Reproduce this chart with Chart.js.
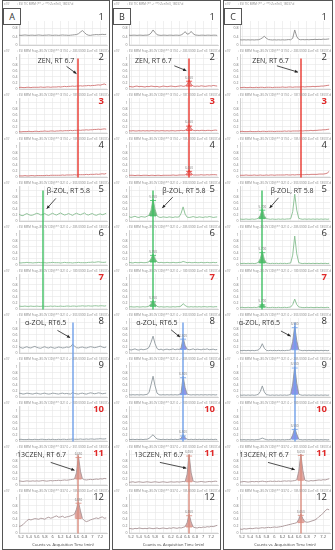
<!DOCTYPE html>
<html>
<head>
<meta charset="utf-8">
<script src="https://cdn.jsdelivr.net/npm/chart.js@4.4.1/dist/chart.umd.min.js"></script>
<style>
  html, body { margin: 0; padding: 0; background: #fff; }
  body { width: 335px; height: 550px; position: relative; overflow: hidden; }
  .col { position: absolute; top: 0; height: 550px; box-sizing: border-box; border: 1px solid #555; background: #fff; }
  .col canvas { display: block; }
  .tag { position: absolute; top: 8px; width: 16px; height: 15px; border: 1px solid #555; background: #fff;
         font: 9px "Open Sans", sans-serif; color: #333; text-align: center; line-height: 15px; z-index: 2; }
</style>
</head>
<body>
<script>
// retention time axis (min), one value every 0.05 min
const times = [5.15,5.2,5.25,5.3,5.35,5.4,5.45,5.5,5.55,5.6,5.65,5.7,5.75,5.8,5.85,5.9,5.95,6.0,6.05,6.1,
  6.15,6.2,6.25,6.3,6.35,6.4,6.45,6.5,6.55,6.6,6.65,6.7,6.75,6.8,6.85,6.9,6.95,7.0,7.05,7.1,
  7.15,7.2,7.25,7.3,7.35];
const xTicks = [5.2,5.4,5.6,5.8,6,6.2,6.4,6.6,6.8,7,7.2];
const yTicks = [0,0.2,0.4,0.6,0.8,1];

// column A
const A1 = [.47,.46,.47,.48,.47,.46,.47,.47,.46, .47,.48,.47,.46,.47,.47,.48,.47,.46,.47, .47,.46,.47,.48,.47,.47,.46,.47,.48,.49, .50,.54,.62,.69,.60,.51,.47,.46,.48,.49, .50,.49,.50,.51,.50,.51];
const A2 = [.04,.05,.04,.04,.05,.05,.04,.05,.05, .05,.05,.06,.05,.05,.06,.06,.05,.06,.06, .06,.07,.06,.07,.08,.07,.08,.08,.09,.08, .09,.09,.10,.09,.10,.10,.11,.10,.11,.11, .12,.13,.12,.14,.16,.13];
const A3 = [.04,.03,.04,.04,.04,.05,.04,.04,.05, .05,.04,.05,.05,.06,.05,.05,.06,.06,.05, .06,.06,.07,.06,.07,.07,.07,.08,.07,.08, .08,.09,.08,.09,.09,.10,.09,.10,.10,.11, .11,.12,.11,.12,.13,.12];
const A4 = [.03,.03,.03,.04,.03,.03,.04,.04,.03, .04,.04,.04,.04,.04,.05,.04,.05,.05,.05, .05,.05,.05,.06,.05,.06,.06,.06,.06,.07, .06,.07,.07,.07,.07,.08,.07,.08,.08,.08, .09,.08,.09,.10,.09,.11];
const A5 = [.22,.18,.17,.21,.24,.20,.18,.19,.22, .25,.23,.19,.21,.24,.20,.18,.22,.25,.21, .19,.23,.26,.22,.19,.21,.24,.21,.18,.22, .25,.22,.20,.23,.26,.21,.19,.22,.24,.20, .18,.21,.23,.20,.22,.25];
const A6 = [.07,.06,.07,.07,.08,.07,.07,.06,.07, .07,.08,.07,.07,.07,.06,.07,.07,.08,.07, .07,.07,.06,.07,.08,.07,.07,.07,.06,.07, .07,.08,.07,.07,.07,.07,.08,.08,.09,.08, .09,.10,.09,.08,.08,.09];
const A7 = [.09,.08,.08,.09,.08,.08,.09,.08,.08, .09,.08,.08,.09,.08,.08,.08,.09,.08,.09, .08,.08,.09,.08,.08,.09,.09,.08,.09,.09, .08,.09,.09,.10,.09,.09,.10,.09,.09,.10, .10,.09,.10,.10,.09,.10];
const A8 = [.21,.17,.15,.18,.20,.17,.16,.19,.21, .18,.16,.15,.18,.20,.17,.16,.19,.17,.15, .17,.19,.18,.16,.17,.19,.18,.20,.28,.22, .17,.16,.18,.19,.17,.16,.18,.20,.19,.17, .18,.20,.22,.19,.17,.19];
const A9 = [.12,.11,.09,.10,.12,.11,.10,.09,.11, .12,.10,.09,.11,.12,.10,.09,.10,.12,.11, .10,.09,.11,.12,.10,.11,.10,.09,.14,.11, .10,.09,.11,.12,.10,.09,.11,.13,.12,.10, .11,.13,.12,.10,.11,.12];
const A10 = [.04,.05,.04,.04,.04,.05,.04,.04,.05, .04,.04,.05,.05,.04,.04,.05,.04,.05,.04, .04,.05,.04,.05,.05,.04,.05,.05,.06,.05, .05,.05,.06,.05,.05,.06,.05,.06,.06,.05, .06,.06,.07,.06,.06,.07];
const A11 = [.13,.12,.11,.12,.13,.12,.12,.13,.12, .13,.12,.13,.14,.13,.12,.13,.14,.13,.14, .14,.15,.14,.15,.16,.15,.16,.17,.18,.19, .40,.95,.45,.20,.17,.16,.17,.18,.17,.18, .19,.18,.20,.19,.21,.20];
const A12 = [.19,.20,.24,.30,.36,.40,.38,.40,.42, .41,.40,.43,.42,.40,.44,.46,.43,.45,.48, .50,.46,.47,.49,.45,.47,.48,.50,.52,.55, .70,.92,.65,.42,.36,.33,.35,.38,.40,.42, .44,.42,.45,.47,.43,.44];

// column B
const B1 = [.47,.46,.47,.47,.46,.47,.47,.46,.47, .47,.49,.57,.72,.60,.49,.47,.46,.47,.47, .46,.47,.47,.46,.47,.47,.46,.48,.54,.64, .52,.54,.65,.54,.48,.47,.46,.47,.47,.46, .47,.47,.46,.47,.47,.46];
const B2 = [.08,.07,.06,.08,.09,.07,.08,.07,.06, .08,.07,.09,.08,.07,.08,.06,.07,.09,.08, .07,.08,.09,.08,.07,.08,.09,.10,.08,.09, .14,.30,.15,.09,.08,.09,.08,.10,.09,.08, .09,.10,.09,.11,.10,.09];
const B3 = [.07,.06,.07,.06,.06,.07,.06,.07,.06, .07,.06,.07,.07,.06,.07,.06,.07,.07,.06, .07,.06,.07,.07,.06,.07,.07,.08,.07,.08, .13,.27,.14,.08,.07,.08,.07,.08,.08,.07, .08,.08,.07,.08,.09,.08];
const B4 = [.05,.05,.05,.04,.05,.05,.04,.05,.05, .05,.04,.05,.05,.04,.05,.05,.04,.05,.05, .05,.05,.05,.06,.05,.05,.06,.06,.06,.06, .11,.23,.12,.06,.06,.06,.06,.07,.06,.06, .07,.06,.07,.07,.07,.06];
const B5 = [.14,.11,.13,.15,.12,.11,.14,.13,.12, .15,.18,.35,.72,.38,.16,.12,.11,.13,.12, .11,.13,.12,.11,.13,.12,.13,.25,.46,.22, .12,.11,.12,.14,.12,.11,.13,.12,.11,.13, .12,.14,.13,.11,.12,.13];
const B6 = [.08,.07,.06,.08,.07,.07,.08,.07,.07, .08,.10,.20,.36,.21,.09,.07,.08,.07,.07, .08,.07,.07,.08,.07,.07,.08,.08,.11,.09, .07,.08,.07,.07,.08,.07,.07,.08,.07,.07, .08,.07,.07,.08,.07,.08];
const B7 = [.06,.07,.06,.06,.07,.06,.06,.07,.06, .07,.09,.17,.28,.16,.08,.06,.07,.06,.06, .07,.06,.06,.07,.06,.07,.07,.09,.17,.11, .07,.06,.07,.06,.07,.06,.07,.06,.07,.07, .06,.07,.07,.06,.07,.07];
const B8 = [.12,.09,.11,.13,.10,.09,.12,.10,.11, .13,.18,.35,.55,.30,.14,.10,.12,.09,.11, .12,.10,.11,.13,.10,.12,.11,.16,.50,.24, .12,.10,.11,.13,.10,.12,.11,.10,.12,.11, .13,.10,.11,.12,.10,.11];
const B9 = [.07,.06,.07,.06,.07,.06,.07,.06,.07, .08,.14,.40,.68,.36,.12,.07,.06,.07,.06, .07,.06,.07,.06,.07,.06,.07,.14,.68,.30, .09,.07,.06,.07,.06,.07,.06,.07,.06,.07, .06,.07,.06,.07,.06,.07];
const B10 = [.05,.04,.05,.04,.05,.04,.05,.04,.05, .05,.08,.14,.20,.12,.06,.05,.04,.05,.04, .05,.04,.05,.04,.05,.04,.05,.08,.21,.10, .05,.04,.05,.04,.05,.04,.05,.04,.05,.04, .05,.04,.05,.04,.05,.04];
const B11 = [.08,.09,.10,.08,.09,.10,.09,.08,.09, .10,.09,.08,.09,.10,.09,.08,.09,.10,.09, .08,.09,.10,.09,.09,.10,.09,.10,.11,.10, .35,1.0,.40,.12,.10,.09,.10,.11,.10,.09, .10,.11,.10,.11,.12,.11];
const B12 = [.13,.12,.11,.13,.12,.14,.13,.12,.13, .12,.14,.13,.12,.13,.14,.12,.13,.14,.13, .12,.14,.13,.15,.14,.13,.15,.14,.16,.18, .30,.55,.32,.17,.15,.14,.16,.15,.17,.16, .18,.17,.19,.18,.20,.22];

// column C
const C1 = [.25,.24,.25,.24,.25,.24,.25,.24,.25, .25,.28,.34,.42,.32,.26,.25,.24,.25,.24, .25,.24,.25,.24,.25,.26,.25,.32,.72,.40, .27,.25,.26,.25,.26,.25,.26,.26,.27,.26, .27,.26,.28,.27,.28,.29];
const C2 = [.04,.04,.05,.04,.04,.05,.04,.04,.05, .04,.05,.05,.04,.05,.05,.05,.04,.05,.05, .05,.05,.06,.05,.05,.06,.06,.05,.06,.06, .06,.06,.07,.06,.07,.07,.07,.08,.07,.08, .08,.09,.09,.10,.11,.12];
const C3 = [.04,.05,.04,.04,.04,.05,.04,.04,.04, .05,.04,.05,.05,.04,.05,.05,.05,.04,.05, .05,.05,.05,.06,.05,.06,.05,.06,.06,.06, .06,.07,.06,.07,.07,.07,.08,.07,.08,.08, .09,.09,.10,.10,.11,.12];
const C4 = [.05,.05,.05,.06,.05,.05,.05,.06,.05, .05,.06,.05,.05,.06,.05,.06,.06,.05,.06, .06,.06,.06,.06,.07,.06,.06,.07,.06,.07, .07,.07,.07,.07,.08,.07,.08,.08,.08,.08, .09,.09,.09,.10,.12,.18];
const C5 = [.06,.05,.05,.06,.05,.05,.06,.05,.06, .08,.18,.40,.17,.07,.06,.05,.06,.05,.05, .06,.05,.06,.05,.06,.06,.07,.30,.88,.35, .08,.06,.05,.06,.05,.06,.05,.06,.05,.06, .05,.06,.05,.06,.05,.06];
const C6 = [.05,.04,.05,.04,.05,.04,.05,.04,.05, .08,.20,.45,.18,.06,.05,.04,.05,.04,.05, .04,.05,.04,.05,.04,.05,.06,.32,.95,.36, .07,.05,.04,.05,.04,.05,.04,.05,.04,.05, .04,.05,.04,.05,.04,.05];
const C7 = [.04,.05,.04,.04,.05,.04,.04,.05,.04, .06,.10,.18,.09,.05,.04,.04,.05,.04,.04, .05,.04,.04,.05,.04,.05,.06,.14,.32,.14, .06,.05,.04,.04,.05,.04,.05,.04,.04,.05, .04,.05,.04,.04,.05,.04];
const C8 = [.08,.07,.08,.07,.08,.07,.08,.07,.08, .09,.16,.30,.15,.08,.07,.08,.07,.08,.07, .08,.07,.08,.07,.08,.08,.10,.38,.88,.40, .10,.08,.07,.08,.07,.08,.07,.08,.07,.08, .07,.08,.07,.08,.07,.08];
const C9 = [.06,.05,.06,.05,.06,.05,.06,.05,.06, .08,.17,.36,.16,.07,.06,.05,.06,.05,.06, .05,.06,.05,.06,.05,.06,.08,.42,1.0,.45, .09,.06,.05,.06,.05,.06,.05,.06,.05,.06, .05,.06,.05,.06,.05,.06];
const C10 = [.04,.03,.04,.03,.04,.03,.04,.03,.04, .04,.06,.09,.06,.04,.03,.04,.03,.04,.03, .04,.03,.04,.03,.04,.04,.05,.20,.42,.22, .05,.04,.03,.04,.03,.04,.03,.04,.03,.04, .03,.04,.03,.04,.03,.04];
const C11 = [.09,.10,.11,.10,.09,.10,.11,.10,.11, .10,.11,.12,.11,.10,.11,.12,.11,.12,.11, .12,.11,.12,.13,.12,.13,.12,.13,.14,.16, .45,1.02,.48,.15,.13,.12,.14,.13,.14,.15, .16,.15,.17,.16,.18,.20];
const C12 = [.11,.10,.12,.11,.12,.13,.12,.13,.14, .13,.14,.15,.14,.15,.16,.15,.16,.17,.16, .17,.18,.19,.21,.22,.24,.25,.27,.28,.30, .40,.56,.42,.33,.31,.32,.34,.36,.38,.42, .48,.52,.58,.65,.70,.68];

// retention times of the marked peaks: ZEN, beta-ZOL, alpha-ZOL, 13C-ZEN
const rtA = [6.65, 5.75, 6.5, 6.65];
const rtB = [6.65, 5.75, 6.5, 6.65];
const rtC = [6.65, 5.7, 6.5, 6.65];
// which groups have an integrated (filled) peak
const filledA = [false, false, false, true];
const filledB = [true, true, true, true];
const filledC = [false, true, true, true];

const noteText = ['ZEN, RT 6.7', 'β-ZOL, RT 5.8', 'α-ZOL, RT6.5', '13CZEN, RT 6.7'];
const panelNumbers = ['1','2','3','4','5','6','7','8','9','10','11','12'];
const redNumbers = [2, 6, 9, 10];

const panelTitles = [
  '+ESI TIC MRM (** -> **) ZenTri3_18037.d',
  '+ESI MRM Frag=80.0V CID@** (319.0 -> 283.0000) ZenTri3_18037.d',
  '+ESI MRM Frag=80.0V CID@** (319.0 -> 187.0000) ZenTri3_18037.d',
  '+ESI MRM Frag=80.0V CID@** (319.0 -> 185.0000) ZenTri3_18037.d',
  '+ESI MRM Frag=80.0V CID@** (321.0 -> 303.0000) ZenTri3_18037.d',
  '+ESI MRM Frag=80.0V CID@** (321.0 -> 285.0000) ZenTri3_18037.d',
  '+ESI MRM Frag=80.0V CID@** (321.0 -> 189.0000) ZenTri3_18037.d',
  '+ESI MRM Frag=80.0V CID@** (321.0 -> 303.0000) ZenTri3_18037.d',
  '+ESI MRM Frag=80.0V CID@** (321.0 -> 285.0000) ZenTri3_18037.d',
  '+ESI MRM Frag=80.0V CID@** (321.0 -> 189.0000) ZenTri3_18037.d',
  '+ESI MRM Frag=80.0V CID@** (337.0 -> 301.0000) ZenTri3_18037.d',
  '+ESI MRM Frag=80.0V CID@** (337.0 -> 185.0000) ZenTri3_18037.d'
];

const groupPanels = [[1,2,3],[4,5,6],[7,8,9],[10,11]];
const traceColors = ['#8c8c8c', '#d07272', '#86bd90', '#8f989e', '#a89395'];
const lineColors = ['#e8352d', '#3fbf63', '#6f9fe8', '#d98a7c'];
const fillColors = ['rgba(233,112,112,0.6)', 'rgba(64,172,88,0.8)', 'rgba(100,108,226,0.72)', 'rgba(206,118,108,0.62)'];
const panelHeights = [48,44,44,44,44,44,44,44,44,44,44,60];

// label + arrow placement in data coordinates: [text at], [arrow from], [arrow to]
const notesA = [
  {at:[5.62,0.92], from:[6.35,0.74], to:[6.6,0.5]},
  {at:[5.85,0.97], from:[6.08,0.74], to:[5.85,0.4]},
  {at:[5.3,0.97], from:[6.12,0.74], to:[6.44,0.5]},
  {at:[5.1,0.97], from:[5.95,0.74], to:[6.55,0.48]}
];
const notesB = [
  {at:[5.3,0.92], from:[6.28,0.76], to:[6.58,0.6]},
  {at:[5.98,0.97], from:[6.24,0.78], to:[5.98,0.42]},
  {at:[5.33,0.97], from:[6.2,0.76], to:[6.42,0.52]},
  {at:[5.28,0.97], from:[5.92,0.74], to:[6.58,0.55]}
];
const notesC = [
  {at:[5.45,0.92], from:[6.06,0.76], to:[6.58,0.55]},
  {at:[5.9,0.97], from:[6.1,0.76], to:[5.88,0.42]},
  {at:[5.12,0.97], from:[6.16,0.72], to:[6.4,0.55]},
  {at:[5.14,0.97], from:[5.84,0.74], to:[6.5,0.5]}
];

const columns = [
  {id:'A', left:2, width:108, panels:[A1,A2,A3,A4,A5,A6,A7,A8,A9,A10,A11,A12], rt:rtA, filled:filledA, notes:notesA},
  {id:'B', left:112, width:109, panels:[B1,B2,B3,B4,B5,B6,B7,B8,B9,B10,B11,B12], rt:rtB, filled:filledB, notes:notesB},
  {id:'C', left:223, width:110, panels:[C1,C2,C3,C4,C5,C6,C7,C8,C9,C10,C11,C12], rt:rtC, filled:filledC, notes:notesC}
];

Chart.defaults.font.family = '"Open Sans", sans-serif';

function groupOf(p) {
  for (let g = 0; g < groupPanels.length; g++) if (groupPanels[g].includes(p)) return g;
  return -1;
}

function drawArrow(ctx, x1, y1, x2, y2) {
  ctx.strokeStyle = '#222';
  ctx.fillStyle = '#222';
  ctx.lineWidth = 0.8;
  ctx.beginPath(); ctx.moveTo(x1, y1); ctx.lineTo(x2, y2); ctx.stroke();
  const a = Math.atan2(y2 - y1, x2 - x1), s = 3.5;
  ctx.beginPath();
  ctx.moveTo(x2, y2);
  ctx.lineTo(x2 - s * Math.cos(a - 0.45), y2 - s * Math.sin(a - 0.45));
  ctx.lineTo(x2 - s * Math.cos(a + 0.45), y2 - s * Math.sin(a + 0.45));
  ctx.closePath(); ctx.fill();
}

function buildPanel(cv, col, p, trace) {
  const g = groupOf(p);
  const last = p === 11;
  const datasets = [{
    data: times.map((t, i) => ({x: t, y: trace[i]})),
    borderColor: traceColors[g + 1], borderWidth: 0.9, pointRadius: 0, fill: false
  }];
  let peak = null;
  if (g >= 0 && col.filled[g]) {
    const rt = col.rt[g];
    const inWin = t => t >= rt - 0.101 && t <= rt + 0.101;
    const vals = trace.filter((v, i) => inWin(times[i]));
    peak = {rt: rt, apex: Math.max(...vals), base: Math.min(...vals)};
    datasets.push({
      data: times.map((t, i) => ({x: t, y: inWin(t) ? trace[i] : null})),
      borderWidth: 0, pointRadius: 0, backgroundColor: fillColors[g], fill: {value: peak.base}
    });
  }

  const overlay = {
    id: 'overlay',
    afterDraw(chart) {
      const {ctx, chartArea, scales: {x, y}} = chart;
      ctx.save();
      ctx.globalAlpha = 1;
      ctx.setLineDash([]);
      // retention time marker running through the group of traces
      if (g >= 0) {
        const gp = groupPanels[g];
        const px = Math.round(x.getPixelForValue(col.rt[g]));
        const top = p === gp[0] ? y.getPixelForValue(1.0) : 0;
        const bottom = p === gp[gp.length - 1] ? chartArea.bottom : chart.height;
        ctx.strokeStyle = lineColors[g];
        ctx.lineWidth = 1.4;
        ctx.beginPath(); ctx.moveTo(px, top); ctx.lineTo(px, bottom); ctx.stroke();
      }
      if (peak) {
        const px = x.getPixelForValue(peak.rt);
        const ya = y.getPixelForValue(peak.apex), yb = y.getPixelForValue(peak.base);
        ctx.strokeStyle = lineColors[g];
        ctx.lineWidth = 0.8;
        ctx.beginPath();
        ctx.moveTo(px - 3, ya + 1.5); ctx.lineTo(px + 3, ya + 1.5);
        ctx.moveTo(px - 3, yb); ctx.lineTo(px + 3, yb);
        ctx.stroke();
        ctx.fillStyle = '#777';
        ctx.font = '3px "Open Sans"';
        ctx.textAlign = 'center';
        ctx.textBaseline = 'bottom';
        ctx.fillText(peak.rt.toFixed(3), px, ya - 0.5);
      }
      // tiny trace header
      ctx.fillStyle = '#888';
      ctx.font = '3px "Open Sans"';
      ctx.textBaseline = 'bottom';
      ctx.textAlign = 'left';
      const ty = p === 0 ? 5 : chartArea.top - 1;
      ctx.fillText('x10²', 1, ty);
      ctx.fillText(panelTitles[p], 14, ty);
      // panel number
      const red = redNumbers.includes(p);
      ctx.fillStyle = red ? '#e02a2a' : '#333';
      ctx.font = (red ? 'bold ' : '') + '9.5px "Open Sans"';
      ctx.textAlign = 'right';
      ctx.textBaseline = 'top';
      ctx.fillText(panelNumbers[p], chartArea.right - 3, chartArea.top - (p === 0 ? 8 : 1));
      // compound label and arrow in the first trace of each group
      if (g >= 0 && p === groupPanels[g][0]) {
        const n = col.notes[g];
        ctx.fillStyle = '#333';
        ctx.font = '7px "Open Sans"';
        ctx.textAlign = 'left';
        ctx.textBaseline = 'middle';
        ctx.fillText(noteText[g], x.getPixelForValue(n.at[0]), y.getPixelForValue(n.at[1]));
        drawArrow(ctx, x.getPixelForValue(n.from[0]), y.getPixelForValue(n.from[1]),
                  x.getPixelForValue(n.to[0]), y.getPixelForValue(n.to[1]));
      }
      ctx.restore();
    }
  };

  new Chart(cv, {
    type: 'line',
    data: { datasets },
    options: {
      responsive: false,
      animation: false,
      events: [],
      layout: { padding: { top: p === 0 ? 20 : 5, bottom: last ? 1 : 2, left: 0, right: 2 } },
      plugins: { legend: { display: false }, tooltip: { enabled: false } },
      scales: {
        x: {
          type: 'linear', min: 5.15, max: 7.37,
          afterBuildTicks: s => { s.ticks = xTicks.map(v => ({value: v})); },
          grid: { color: '#e6e6e6', lineWidth: 0.6, drawTicks: false },
          border: { color: '#c4c4c4', width: 0.8 },
          ticks: { display: last, font: { size: 4 }, color: '#555', padding: 1.5, maxRotation: 0, autoSkip: false,
                   callback: v => String(+v.toFixed(1)) },
          title: { display: last, text: 'Counts vs. Acquisition Time (min)', font: { size: 4 }, color: '#444', padding: 1 }
        },
        y: {
          min: -0.02, max: 1.15,
          afterBuildTicks: s => { s.ticks = yTicks.map(v => ({value: v})); },
          afterFit: s => { s.width = 16; },
          grid: { color: '#e6e6e6', lineWidth: 0.6, drawTicks: false },
          border: { color: '#c4c4c4', width: 0.8 },
          ticks: { font: { size: 3.5 }, color: '#777', padding: 1.5, callback: v => String(v) }
        }
      }
    },
    plugins: [overlay]
  });
}

columns.forEach(col => {
  const box = document.createElement('div');
  box.className = 'col';
  box.style.left = col.left + 'px';
  box.style.width = col.width + 'px';
  document.body.appendChild(box);

  const tag = document.createElement('div');
  tag.className = 'tag';
  tag.style.left = (col.left + 1) + 'px';
  tag.textContent = col.id;
  document.body.appendChild(tag);

  col.panels.forEach((trace, p) => {
    const cv = document.createElement('canvas');
    cv.width = col.width - 2;
    cv.height = panelHeights[p];
    box.appendChild(cv);
    buildPanel(cv, col, p, trace);
  });
});
</script>
</body>
</html>
